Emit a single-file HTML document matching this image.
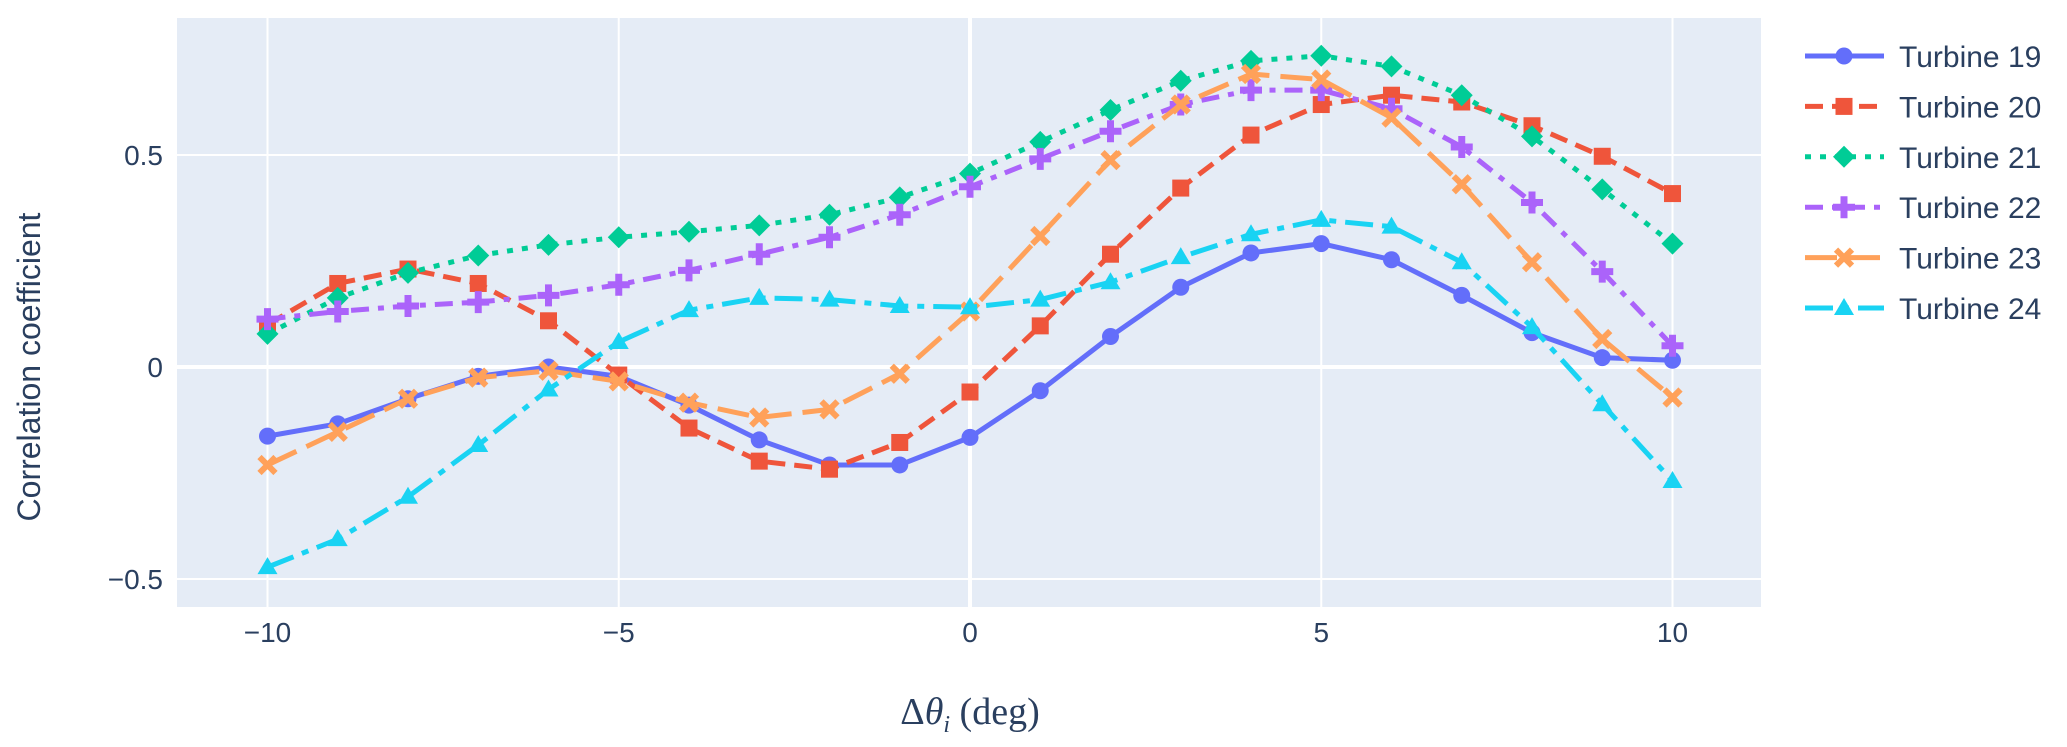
<!DOCTYPE html>
<html><head><meta charset="utf-8"><style>
body{margin:0;background:#fff;}
svg{display:block;font-family:"Liberation Sans",sans-serif;}
</style></head><body>
<svg id="chart" width="2067" height="747">
<rect x="177" y="18" width="1584" height="589" fill="#e5ecf6"/>
<g id="grid"></g>
<g id="series"></g>
<g id="ticks" fill="#2a3f5f" font-size="28"></g>
<text x="40" y="367" transform="rotate(-90 40 367)" text-anchor="middle" font-size="32" fill="#2a3f5f">Correlation coefficient</text>
<text x="970" y="724" text-anchor="middle" font-family="Liberation Serif,serif" font-size="38" fill="#2a3f5f">Δ<tspan font-style="italic">θ</tspan><tspan font-style="italic" font-size="24" dy="8">i</tspan><tspan dy="-8"> (deg)</tspan></text>
<g id="legend" font-size="30" fill="#2a3f5f"></g>
</svg>
<script>
const xs = [-10,-9,-8,-7,-6,-5,-4,-3,-2,-1,0,1,2,3,4,5,6,7,8,9,10];
const names = ["Turbine 19","Turbine 20","Turbine 21","Turbine 22","Turbine 23","Turbine 24"];
const t19 = [-0.163,-0.134,-0.075,-0.022,0,-0.022,-0.09,-0.172,-0.231,-0.231,-0.166,-0.056,0.072,0.188,0.269,0.291,0.253,0.169,0.081,0.022,0.016];
const t20 = [0.1,0.197,0.231,0.197,0.109,-0.019,-0.144,-0.222,-0.241,-0.178,-0.059,0.097,0.266,0.422,0.547,0.619,0.641,0.625,0.569,0.497,0.409];
const t21 = [0.078,0.163,0.222,0.263,0.288,0.306,0.319,0.334,0.359,0.4,0.456,0.531,0.606,0.675,0.722,0.734,0.709,0.641,0.544,0.419,0.291];
const t22 = [0.113,0.131,0.144,0.153,0.169,0.194,0.228,0.266,0.306,0.359,0.425,0.491,0.556,0.619,0.653,0.653,0.609,0.519,0.388,0.225,0.05];
const t23 = [-0.231,-0.153,-0.075,-0.025,-0.009,-0.034,-0.084,-0.119,-0.1,-0.016,0.131,0.309,0.488,0.619,0.691,0.678,0.588,0.431,0.247,0.066,-0.072];
const t24 = [-0.472,-0.406,-0.306,-0.184,-0.053,0.059,0.134,0.163,0.159,0.144,0.141,0.159,0.2,0.259,0.313,0.347,0.331,0.247,0.094,-0.088,-0.269];
const xTicks = [-10,-5,0,5,10];
const xTickLabels = ["−10","−5","0","5","10"];
const yTicks = [-0.5,0,0.5];
const yTickLabels = ["−0.5","0","0.5"];

const NS="http://www.w3.org/2000/svg";
const X = v => 970 + v*70.25;
const Y = v => 367 - v*424;
function mk(tag, attrs, parent){const e=document.createElementNS(NS,tag);for(const k in attrs)e.setAttribute(k,attrs[k]);parent.appendChild(e);return e;}
const grid=document.getElementById('grid'), ticks=document.getElementById('ticks');
xTicks.forEach((t,i)=>{
  const l=mk('line',{x1:X(t),x2:X(t),y1:18,y2:607,stroke:'#fff','stroke-width':t===0?4:2},grid);
  
  
  const tx=mk('text',{x:X(t),y:642,'text-anchor':'middle'},ticks);
  tx.textContent=xTickLabels[i];
  
  
});
yTicks.forEach((t,i)=>{
  const l=mk('line',{x1:177,x2:1761,y1:Y(t),y2:Y(t),stroke:'#fff','stroke-width':t===0?4:2},grid);
  
  
  const tx=mk('text',{x:163,y:Y(t)+10,'text-anchor':'end'},ticks);
  tx.textContent=yTickLabels[i];
  
  
});
const data=[t19,t20,t21,t22,t23,t24];
const colors=['#636efa','#EF553B','#00cc96','#ab63fa','#FFA15A','#19d3f3'];
const dashes=['','18,9','6,9','18,9,6,9','32,11','28,9,7,9'];
function marker(k,x,y,c,parent){
  let m;
  if(k===0) m=mk('circle',{cx:x,cy:y,r:8.5,fill:c},parent);
  else if(k===1) m=mk('rect',{x:x-8.5,y:y-8.5,width:17,height:17,fill:c},parent);
  else if(k===2) m=mk('path',{d:`M${x},${y-11}L${x+11},${y}L${x},${y+11}L${x-11},${y}Z`,fill:c},parent);
  else if(k===3) m=mk('path',{d:`M${x-3.5},${y-11}h7v7.5h7.5v7h-7.5v7.5h-7v-7.5h-7.5v-7h7.5Z`,fill:c},parent);
  else if(k===4) m=mk('path',{d:`M${x-8},${y-8}L${x+8},${y+8}M${x+8},${y-8}L${x-8},${y+8}`,stroke:c,'stroke-width':6},parent);
  else m=mk('path',{d:`M${x},${y-10}L${x+10},${y+7}L${x-10},${y+7}Z`,fill:c},parent);
  return m;
}
const sg=document.getElementById('series'), lg=document.getElementById('legend');
data.forEach((arr,k)=>{
  const g=mk('g',{},sg);
  
  
  const p=mk('polyline',{points:arr.map((v,i)=>X(xs[i])+','+Y(v)).join(' '),fill:'none',stroke:colors[k],'stroke-width':5,'stroke-dasharray':dashes[k],'stroke-linejoin':'round'},g);
  
  
  arr.forEach((v,i)=>{
    const m=marker(k,X(xs[i]),Y(v),colors[k],g);
    
    
  });
  const ly=56+k*50.4;
  const le=mk('g',{},lg);
  
  
  mk('line',{x1:1805,x2:1884,y1:ly,y2:ly,stroke:colors[k],'stroke-width':5,'stroke-dasharray':dashes[k]},le);
  marker(k,1844,ly,colors[k],le);
  const t=mk('text',{x:1899,y:ly+11},le);
  t.textContent=names[k];
});
</script>
</body></html>
